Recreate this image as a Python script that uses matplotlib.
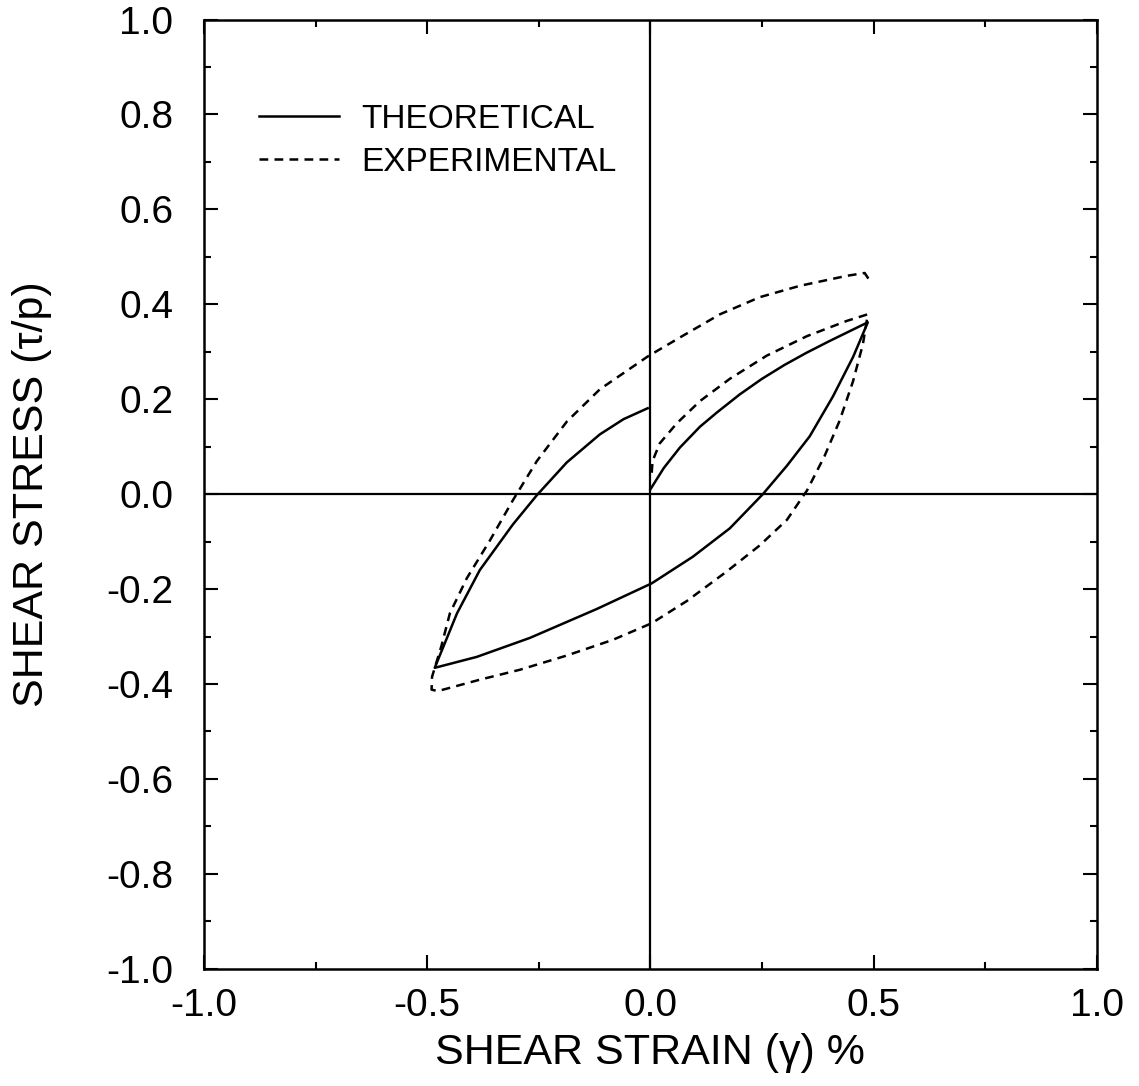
import matplotlib
matplotlib.use("Agg")
import matplotlib.pyplot as plt
from matplotlib.ticker import MultipleLocator, FormatStrFormatter

plt.rcParams['font.family'] = ['Liberation Sans', 'DejaVu Sans']
plt.rcParams['axes.unicode_minus'] = False

# Theoretical loop: initial loading, unloading, reloading
theo_x = [0.0, 0.030, 0.066, 0.111, 0.149, 0.200, 0.250, 0.300, 0.350, 0.400, 0.450, 0.487,
          0.454, 0.409, 0.357, 0.306, 0.252, 0.178, 0.095, 0.003, -0.120, -0.270, -0.389, -0.483,
          -0.433, -0.382, -0.308, -0.254, -0.187, -0.113, -0.060, -0.006]
theo_y = [0.010, 0.055, 0.098, 0.142, 0.172, 0.210, 0.243, 0.272, 0.298, 0.322, 0.345, 0.362,
          0.289, 0.206, 0.122, 0.060, 0.000, -0.072, -0.132, -0.188, -0.242, -0.303, -0.343, -0.366,
          -0.251, -0.160, -0.064, -0.002, 0.067, 0.126, 0.158, 0.181]

# Experimental loop
exp_x = [0.003, 0.005, 0.021, 0.059, 0.111, 0.178, 0.261, 0.351, 0.440, 0.487,
         0.476, 0.454, 0.424, 0.390, 0.351, 0.306, 0.245, 0.171, 0.082, 0.003, -0.084, -0.187,
         -0.292, -0.382, -0.476, -0.490, -0.489, -0.468,
         -0.449, -0.411, -0.359, -0.308, -0.254, -0.187, -0.113, -0.006, 0.066, 0.156, 0.245,
         0.335, 0.440, 0.480, 0.489]
exp_y = [0.045, 0.070, 0.107, 0.149, 0.196, 0.243, 0.292, 0.333, 0.365, 0.379,
         0.316, 0.238, 0.155, 0.080, 0.008, -0.054, -0.108, -0.163, -0.225, -0.272, -0.307, -0.340,
         -0.370, -0.391, -0.415, -0.412, -0.385, -0.320,
         -0.251, -0.177, -0.097, -0.013, 0.070, 0.153, 0.221, 0.290, 0.330, 0.379, 0.415,
         0.439, 0.460, 0.466, 0.453]

series_labels = ["THEORETICAL", "EXPERIMENTAL"]
x_ticks = [-1.0, -0.5, 0.0, 0.5, 1.0]
y_ticks = [-1.0, -0.8, -0.6, -0.4, -0.2, 0.0, 0.2, 0.4, 0.6, 0.8, 1.0]

fig = plt.figure(figsize=(11.39, 10.86), dpi=100)
ax = fig.add_axes([0.179, 0.108, 0.784, 0.874])

ax.axhline(0, color='black', lw=1.6, zorder=1)
ax.axvline(0, color='black', lw=1.6, zorder=1)

ax.plot(theo_x, theo_y, color='black', lw=1.8, solid_joinstyle='round', label=series_labels[0])
ax.plot(exp_x, exp_y, color='black', lw=1.8, dashes=(3.5, 2.5), label=series_labels[1])

ax.set_xlim(-1, 1)
ax.set_ylim(-1, 1)
ax.set_xticks(x_ticks)
ax.set_yticks(y_ticks)
ax.xaxis.set_minor_locator(MultipleLocator(0.25))
ax.yaxis.set_minor_locator(MultipleLocator(0.1))
ax.xaxis.set_major_formatter(FormatStrFormatter('%.1f'))
ax.yaxis.set_major_formatter(FormatStrFormatter('%.1f'))
ax.tick_params(which='both', direction='in', top=True, right=True, width=1.5)
ax.tick_params(which='major', length=10, labelsize=28)
ax.tick_params(which='minor', length=5)
ax.tick_params(axis='y', which='major', pad=22)
ax.tick_params(axis='x', which='major', pad=14)
for s in ax.spines.values():
    s.set_linewidth(1.8)

ax.set_xlabel("SHEAR STRAIN (γ) %", fontsize=31)
ax.set_ylabel("SHEAR STRESS (τ/p)", fontsize=31)
ax.xaxis.set_label_coords(0.5, -0.068)
ax.yaxis.set_label_coords(-0.17, 0.5)

ax.legend(loc='upper left', bbox_to_anchor=(0.062, 0.911), frameon=False,
          fontsize=24, handlelength=2.4, handletextpad=0.65, labelspacing=0.35,
          borderpad=0, borderaxespad=0)

fig.savefig("out.png", dpi=100)
